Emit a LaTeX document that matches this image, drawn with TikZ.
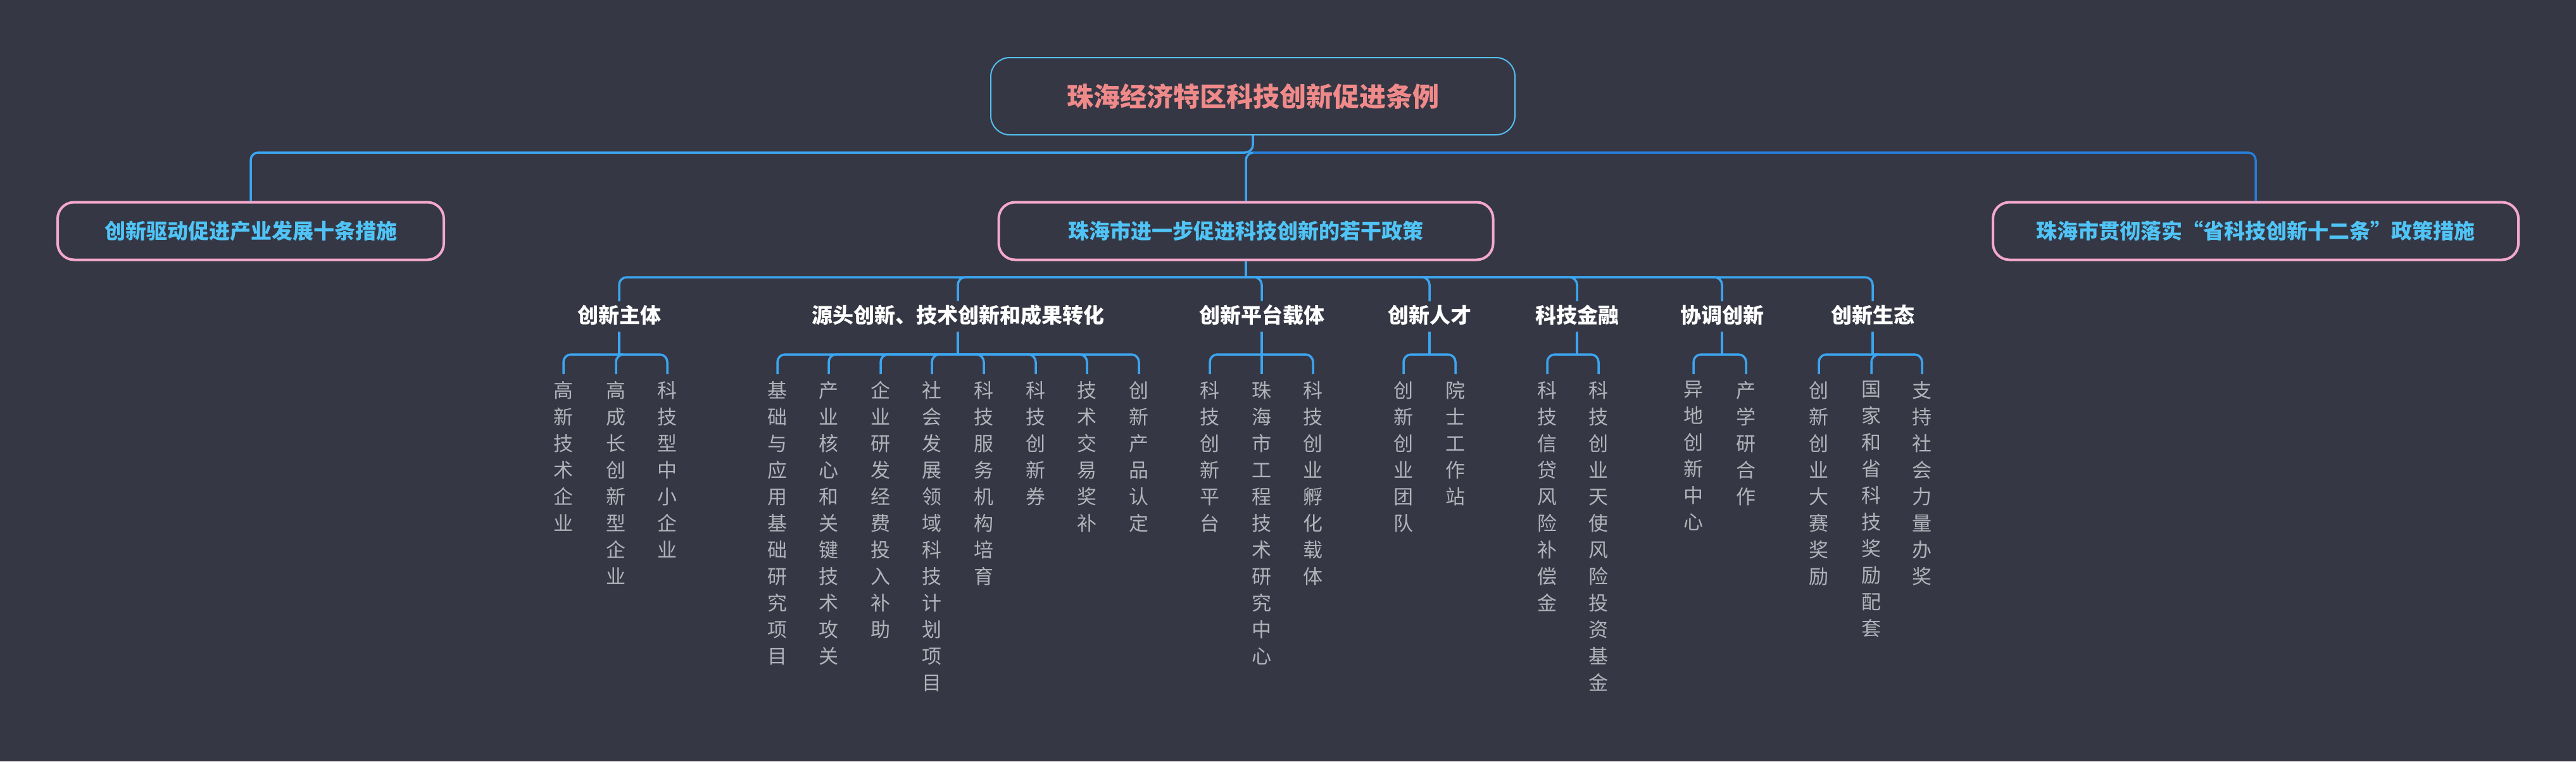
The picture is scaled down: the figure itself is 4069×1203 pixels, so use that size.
\documentclass[tikz,border=0pt]{standalone}
\usepackage{fontspec}
\setmainfont{Noto Sans CJK SC}
\XeTeXlinebreaklocale "zh"
\XeTeXlinebreakskip=0pt plus 1pt
\usepackage{tikz}
\usetikzlibrary{positioning,calc}
\definecolor{bgdark}{RGB}{53,55,68}
\definecolor{rootblue}{RGB}{84,190,240}
\definecolor{rootred}{RGB}{240,138,138}
\definecolor{subpink}{RGB}{244,168,204}
\definecolor{subblue}{RGB}{80,196,246}
\definecolor{linkblue}{RGB}{60,165,240}
\definecolor{darklink}{RGB}{40,125,215}
\definecolor{leafgray}{RGB}{178,178,186}
\tikzset{
  rootbox/.style={draw=rootblue,line width=2pt,rounded corners=30pt,minimum width=828pt,minimum height=122pt,text=rootred,font=\bfseries\fontsize{42}{50}\selectfont},
  subbox/.style={draw=subpink,line width=4pt,rounded corners=26pt,minimum height=91pt,text=subblue,font=\bfseries\fontsize{33}{40}\selectfont},
  branch/.style={text=white,inner sep=2pt,font=\bfseries\fontsize{33}{40}\selectfont},
  leaf/.style={text=leafgray,inner sep=0pt,anchor=north,text width=34pt,align=center,font=\fontsize{31}{42}\selectfont},
  link/.style={draw=linkblue,line width=3.5pt,rounded corners=12pt}
}
\begin{document}
\begin{tikzpicture}[x=1pt,y=1pt]
\fill[bgdark] (0,0) rectangle (4069,-1203);
\useasboundingbox (0,0) rectangle (4069,-1203);
% title and first level
\node[rootbox] (root) at (1979,-152) {珠海经济特区科技创新促进条例};
\node[subbox,minimum width=610pt] (lA) at (396,-365) {创新驱动促进产业发展十条措施};
\node[subbox,minimum width=781pt] (lB) at (1968,-365) {珠海市进一步促进科技创新的若干政策};
\node[subbox,minimum width=830pt] (lC) at (3563,-365) {珠海市贯彻落实“省科技创新十二条”政策措施};
\coordinate (busA) at (1979,-241);
\draw[link] (root.south) -- (busA) -| (lA.north);
\draw[link] (busA) -| (lB.north);
\draw[link,draw=darklink] (busA) -| (lC.north);
% second level
\node[branch] (b1) at (978,-498) {创新主体};
\node[branch] (b2) at (1513,-498) {源头创新、技术创新和成果转化};
\node[branch] (b3) at (1993,-498) {创新平台载体};
\node[branch] (b4) at (2258,-498) {创新人才};
\node[branch] (b5) at (2491,-498) {科技金融};
\node[branch] (b6) at (2720,-498) {协调创新};
\node[branch] (b7) at (2958,-498) {创新生态};
\coordinate (busB) at (1968,-438);
\draw[link] (lB.south) -- (busB);
\foreach \i in {1,...,7}
  \draw[link,shorten >=4pt] (busB) -| (b\i.north);
% leaves
\foreach \i/\x in {1/978,2/1513,3/1993,4/2258,5/2484,6/2716,7/2956}
  \coordinate (bus\i) at (\x,-560);
\foreach \i in {1,...,7}
  \draw[link,shorten <=8pt] (b\i.south) -- (b\i.south |- bus\i);
\foreach \x/\t [count=\k] in {890/高新技术企业,973/高成长创新型企业,1054/科技型中小企业}{
  \node[leaf] (g1-\k) at (\x,-602) {\t};
  \draw[link,shorten >=11pt] (bus1 -| b1) -| (g1-\k.north);
}
\foreach \x/\t [count=\k] in {1228/基础与应用基础研究项目,1309/产业核心和关键技术攻关,1391/企业研发经费投入补助,1472/社会发展领域科技计划项目,1554/科技服务机构培育,1636/科技创新券,1717/技术交易奖补,1799/创新产品认定}{
  \node[leaf] (g2-\k) at (\x,-602) {\t};
  \draw[link,shorten >=11pt] (bus2 -| b2) -| (g2-\k.north);
}
\foreach \x/\t [count=\k] in {1911/科技创新平台,1993/珠海市工程技术研究中心,2074/科技创业孵化载体}{
  \node[leaf] (g3-\k) at (\x,-602) {\t};
  \draw[link,shorten >=11pt] (bus3 -| b3) -| (g3-\k.north);
}
\foreach \x/\t [count=\k] in {2217/创新创业团队,2299/院士工作站}{
  \node[leaf] (g4-\k) at (\x,-602) {\t};
  \draw[link,shorten >=11pt] (bus4 -| b4) -| (g4-\k.north);
}
\foreach \x/\t [count=\k] in {2444/科技信贷风险补偿金,2525/科技创业天使风险投资基金}{
  \node[leaf] (g5-\k) at (\x,-602) {\t};
  \draw[link,shorten >=11pt] (bus5 -| b5) -| (g5-\k.north);
}
\foreach \x/\t [count=\k] in {2675/异地创新中心,2758/产学研合作}{
  \node[leaf] (g6-\k) at (\x,-602) {\t};
  \draw[link,shorten >=11pt] (bus6 -| b6) -| (g6-\k.north);
}
\foreach \x/\t [count=\k] in {2873/创新创业大赛奖励,2956/国家和省科技奖励配套,3036/支持社会力量办奖}{
  \node[leaf] (g7-\k) at (\x,-602) {\t};
  \draw[link,shorten >=11pt] (bus7 -| b7) -| (g7-\k.north);
}
\end{tikzpicture}
\end{document}
